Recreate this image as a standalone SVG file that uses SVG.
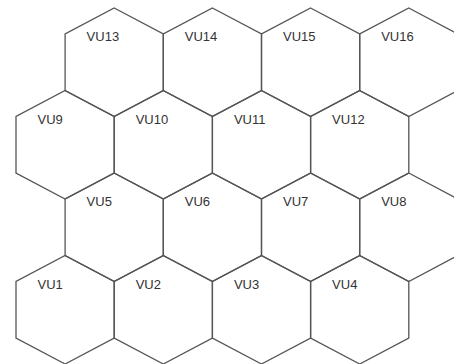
<svg xmlns="http://www.w3.org/2000/svg" xmlns:xlink="http://www.w3.org/1999/xlink" width="454" height="364" viewBox="0 0 454 364">
<style>
.hex{fill:none;stroke:#555;stroke-width:1.3;stroke-linejoin:miter}
.lbl{font-family:"Liberation Sans",Arial,sans-serif;font-size:13px;fill:#333}
</style>
<defs>
<polygon id="hex" class="hex" points="0,0 49.1,26 49.1,82.5 0,108.5 -49.1,82.5 -49.1,26"/>
</defs>
<rect width="454" height="364" fill="#fff"/>
<g id="VU13"><use href="#hex" x="114.2" y="8"/><text class="lbl" x="86.6" y="41">VU13</text></g>
<g id="VU14"><use href="#hex" x="212.4" y="8"/><text class="lbl" x="184.8" y="41">VU14</text></g>
<g id="VU15"><use href="#hex" x="310.6" y="8"/><text class="lbl" x="283" y="41">VU15</text></g>
<g id="VU16"><use href="#hex" x="408.8" y="8"/><text class="lbl" x="381.2" y="41">VU16</text></g>
<g id="VU9"><use href="#hex" x="65.1" y="90.5"/><text class="lbl" x="37.5" y="123.5">VU9</text></g>
<g id="VU10"><use href="#hex" x="163.3" y="90.5"/><text class="lbl" x="135.7" y="123.5">VU10</text></g>
<g id="VU11"><use href="#hex" x="261.5" y="90.5"/><text class="lbl" x="233.9" y="123.5">VU11</text></g>
<g id="VU12"><use href="#hex" x="359.7" y="90.5"/><text class="lbl" x="332.1" y="123.5">VU12</text></g>
<g id="VU5"><use href="#hex" x="114.2" y="173"/><text class="lbl" x="86.6" y="206">VU5</text></g>
<g id="VU6"><use href="#hex" x="212.4" y="173"/><text class="lbl" x="184.8" y="206">VU6</text></g>
<g id="VU7"><use href="#hex" x="310.6" y="173"/><text class="lbl" x="283" y="206">VU7</text></g>
<g id="VU8"><use href="#hex" x="408.8" y="173"/><text class="lbl" x="381.2" y="206">VU8</text></g>
<g id="VU1"><use href="#hex" x="65.1" y="255.5"/><text class="lbl" x="37.5" y="289">VU1</text></g>
<g id="VU2"><use href="#hex" x="163.3" y="255.5"/><text class="lbl" x="135.7" y="289">VU2</text></g>
<g id="VU3"><use href="#hex" x="261.5" y="255.5"/><text class="lbl" x="233.9" y="289">VU3</text></g>
<g id="VU4"><use href="#hex" x="359.7" y="255.5"/><text class="lbl" x="332.1" y="289">VU4</text></g>
<g id="connectors"></g>
</svg>
